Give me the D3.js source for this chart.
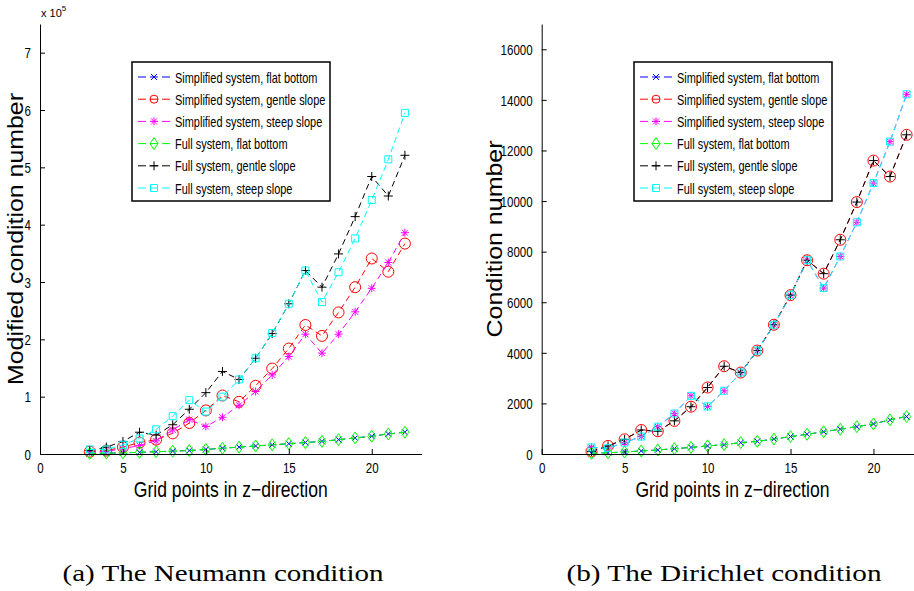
<!DOCTYPE html>
<html lang="en">
<head>
<meta charset="utf-8">
<title>Condition numbers</title>
<script src="https://cdn.jsdelivr.net/npm/d3@7"></script>
<style>
  html, body { margin: 0; padding: 0; background: #fff; }
  svg { display: block; }
  .narrow { font-family: "Liberation Sans Narrow", "Arial Narrow", "Liberation Sans", Arial, sans-serif; }
  .caption { font-family: "Liberation Serif", "DejaVu Serif", serif; }
</style>
</head>
<body>
<script>
// grid points in z-direction
const gridPoints = [3, 4, 5, 6, 7, 8, 9, 10, 11, 12, 13, 14, 15, 16, 17, 18, 19, 20, 21, 22];

// Neumann condition, modified condition number (x 10^5)
const neuSimpFlat   = [0.01, 0.015, 0.02, 0.03, 0.04, 0.05, 0.06, 0.08, 0.10, 0.12, 0.14, 0.16, 0.18, 0.20, 0.22, 0.25, 0.28, 0.31, 0.35, 0.38];
const neuSimpGentle = [0.04, 0.06, 0.12, 0.20, 0.25, 0.36, 0.54, 0.76, 1.02, 0.91, 1.19, 1.49, 1.84, 2.25, 2.06, 2.47, 2.91, 3.41, 3.18, 3.67];
const neuSimpSteep  = [0.03, 0.05, 0.09, 0.15, 0.23, 0.42, 0.60, 0.48, 0.64, 0.85, 1.09, 1.38, 1.70, 2.09, 1.76, 2.09, 2.48, 2.89, 3.34, 3.86];
const neuFullFlat   = [0.01, 0.015, 0.02, 0.03, 0.04, 0.05, 0.06, 0.08, 0.10, 0.12, 0.14, 0.16, 0.18, 0.20, 0.22, 0.25, 0.28, 0.31, 0.35, 0.38];
const neuFullGentle = [0.06, 0.12, 0.22, 0.38, 0.33, 0.51, 0.78, 1.07, 1.44, 1.30, 1.67, 2.10, 2.62, 3.20, 2.91, 3.49, 4.14, 4.84, 4.50, 5.21];
const neuFullSteep  = [0.08, 0.08, 0.16, 0.27, 0.43, 0.66, 0.94, 0.74, 1.00, 1.30, 1.67, 2.11, 2.62, 3.20, 2.65, 3.17, 3.76, 4.43, 5.14, 5.95];

// Dirichlet condition, condition number
const dirSimpFlat   = [30, 50, 80, 120, 160, 210, 260, 320, 370, 450, 500, 590, 690, 780, 880, 980, 1080, 1190, 1350, 1480];
const dirSimpGentle = [100, 320, 580, 950, 900, 1310, 1870, 2630, 3470, 3220, 4090, 5110, 6280, 7660, 7130, 8470, 9960, 11600, 10970, 12620];
const dirSimpSteep  = [260, 230, 450, 690, 1080, 1600, 2300, 1880, 2500, 3220, 4090, 5110, 6280, 7660, 6560, 7810, 9160, 10710, 12350, 14220];
const dirFullFlat   = [30, 50, 80, 120, 160, 210, 260, 320, 370, 450, 500, 590, 690, 780, 880, 980, 1080, 1190, 1350, 1480];
const dirFullGentle = [100, 320, 580, 950, 900, 1310, 1870, 2630, 3470, 3220, 4090, 5110, 6280, 7660, 7130, 8470, 9960, 11600, 10970, 12620];
const dirFullSteep  = [260, 230, 450, 690, 1080, 1600, 2300, 1880, 2500, 3220, 4090, 5110, 6280, 7660, 6560, 7810, 9160, 10710, 12350, 14220];

const seriesNames = [
  "Simplified system, flat bottom",
  "Simplified system, gentle slope",
  "Simplified system, steep slope",
  "Full system, flat bottom",
  "Full system, gentle slope",
  "Full system, steep slope"
];
const seriesColors = ["#0000ff", "#ff0000", "#ff00ff", "#00ff00", "#000000", "#00ffff"];
const seriesMarkers = ["x", "circle", "star", "diamond", "plus", "square"];

const neuTicksY = [0, 1, 2, 3, 4, 5, 6, 7];
const dirTicksY = [0, 2000, 4000, 6000, 8000, 10000, 12000, 14000, 16000];
const ticksX = [0, 5, 10, 15, 20];

const W = 914, H = 591;
const svg = d3.select("body").append("svg").attr("width", W).attr("height", H);

// the original text is a condensed helvetica, so squeeze the glyphs
function squeeze(sel, k) {
  sel.each(function () {
    const len = this.getComputedTextLength();
    d3.select(this).attr("textLength", len * k).attr("lengthAdjust", "spacingAndGlyphs");
  });
}

// marker shapes
function markerPath(type) {
  switch (type) {
    case "x": return "M-3,-3L3,3M-3,3L3,-3";
    case "plus": return "M-4.5,0L4.5,0M0,-4.5L0,4.5";
    case "star": return "M-4,0L4,0M0,-4L0,4M-3,-3L3,3M-3,3L3,-3";
    case "diamond": return "M0,-6L4,0L0,6L-4,0Z";
    case "square": return "M-3.5,-3.5L3.5,-3.5L3.5,3.5L-3.5,3.5Z";
  }
  return null;
}

function drawMarker(g, type, color, x, y, r) {
  if (type === "circle") {
    g.append("circle").attr("cx", x).attr("cy", y).attr("r", r || 5.5)
      .attr("fill", "none").attr("stroke", color).attr("stroke-width", 1);
  } else {
    g.append("path").attr("d", markerPath(type))
      .attr("transform", "translate(" + x + "," + y + ")")
      .attr("fill", "none").attr("stroke", color).attr("stroke-width", 1);
  }
}

function drawPanel(opt) {
  const x = d3.scaleLinear().domain([0, 23]).range([opt.left, opt.left + 381.5]);
  const y = d3.scaleLinear().domain([0, opt.ymax]).range([454, 24]);
  const g = svg.append("g");

  // series lines then markers, in plot order
  const line = d3.line().x((d, i) => x(gridPoints[i])).y(d => y(d));
  opt.series.forEach((vals, s) => {
    g.append("path").datum(vals).attr("d", line)
      .attr("fill", "none").attr("stroke", seriesColors[s])
      .attr("stroke-width", 1).attr("stroke-dasharray", "6,4");
    vals.forEach((v, i) => drawMarker(g, seriesMarkers[s], seriesColors[s], x(gridPoints[i]), y(v)));
  });

  // axes, ticks pointing inward
  const xAxis = d3.axisBottom(x).tickValues(ticksX).tickSizeInner(-5).tickSizeOuter(0).tickPadding(8);
  const yAxis = d3.axisLeft(y).tickValues(opt.ticksY).tickFormat(d3.format("d"))
    .tickSizeInner(-5).tickSizeOuter(0).tickPadding(9);
  const gx = g.append("g").attr("transform", "translate(0,454)").call(xAxis);
  const gy = g.append("g").attr("transform", "translate(" + opt.left + ",0)").call(yAxis);
  [gx, gy].forEach(a => {
    a.select(".domain").attr("stroke", "#000").attr("stroke-width", 1);
    a.selectAll(".tick line").attr("stroke", "#000");
    a.selectAll("text").attr("class", "narrow").attr("font-size", 15).attr("fill", "#000")
      .attr("font-family", null);
    squeeze(a.selectAll("text"), 0.77);
  });
  gy.selectAll("text").attr("dy", "0.35em");

  // axis titles
  g.append("text").attr("class", "narrow")
    .attr("x", (opt.left + opt.left + 381.5) / 2).attr("y", 497)
    .attr("text-anchor", "middle").attr("font-size", 22)
    .attr("textLength", 194).attr("lengthAdjust", "spacingAndGlyphs")
    .text("Grid points in z\u2212direction");
  g.append("text").attr("class", "narrow")
    .attr("transform", "translate(" + opt.ylabelX + ",239) rotate(-90)")
    .attr("text-anchor", "middle").attr("font-size", 22)
    .attr("textLength", opt.ylabelLen).attr("lengthAdjust", "spacingAndGlyphs")
    .text(opt.ylabel);

  // legend
  const lg = g.append("g").attr("transform", "translate(" + opt.legendX + ",62)");
  lg.append("rect").attr("width", 198).attr("height", 139)
    .attr("fill", "#fff").attr("stroke", "#000").attr("stroke-width", 1.5);
  seriesNames.forEach((name, s) => {
    const ly = 15 + s * 22.2;
    lg.append("line").attr("x1", 6).attr("x2", 40).attr("y1", ly).attr("y2", ly)
      .attr("stroke", seriesColors[s]).attr("stroke-width", 1).attr("stroke-dasharray", "8,4");
    drawMarker(lg, seriesMarkers[s], seriesColors[s], 22, ly, 4);
    const t = lg.append("text").attr("class", "narrow").attr("x", 43).attr("y", ly + 5.5)
      .attr("font-size", 15).attr("fill", "#000")
      .text(name);
    squeeze(t, 0.73);
  });

  // caption
  svg.append("text").attr("class", "caption")
    .attr("x", opt.captionX).attr("y", 581)
    .attr("text-anchor", "middle").attr("font-size", 23)
    .attr("textLength", opt.captionLen).attr("lengthAdjust", "spacingAndGlyphs")
    .text(opt.caption);
}

drawPanel({
  left: 40, ymax: 7.5, ticksY: neuTicksY,
  series: [neuSimpFlat, neuSimpGentle, neuSimpSteep, neuFullFlat, neuFullGentle, neuFullSteep],
  ylabel: "Modified condition number", ylabelX: 23, ylabelLen: 292,
  legendX: 132, caption: "(a) The Neumann condition", captionX: 223, captionLen: 321
});

// exponent label of the left y axis
const expo = svg.append("text").attr("class", "narrow").attr("x", 41).attr("y", 17).attr("font-size", 11);
expo.append("tspan").text("x 10");
expo.append("tspan").attr("dy", -6).attr("font-size", 8).text("5");

drawPanel({
  left: 541.7, ymax: 17000, ticksY: dirTicksY,
  series: [dirSimpFlat, dirSimpGentle, dirSimpSteep, dirFullFlat, dirFullGentle, dirFullSteep],
  ylabel: "Condition number", ylabelX: 502, ylabelLen: 197,
  legendX: 634, caption: "(b) The Dirichlet condition", captionX: 724, captionLen: 315
});
</script>
</body>
</html>
